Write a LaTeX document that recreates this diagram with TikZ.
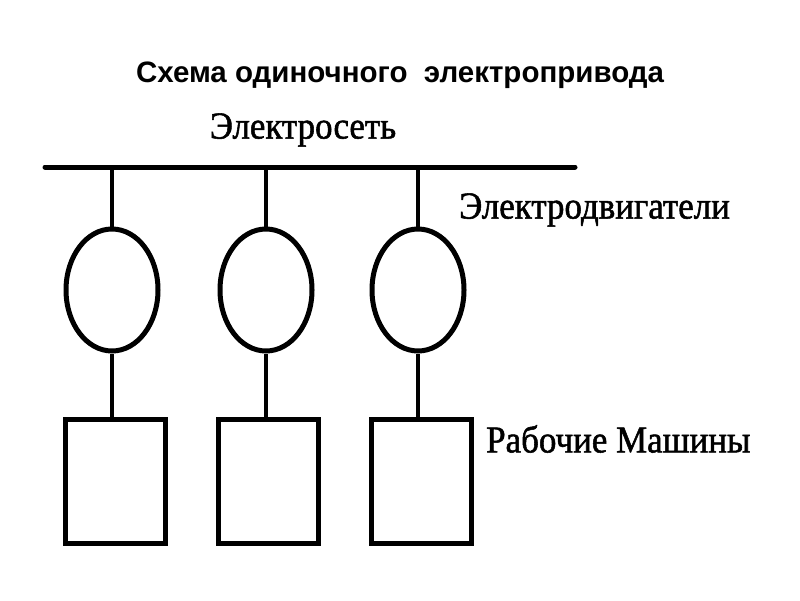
\documentclass[tikz,border=0pt]{standalone}
\usepackage{fontspec}
\usetikzlibrary{shapes.geometric}
\setmainfont{Liberation Serif}
\newfontfamily\titlefont{Liberation Sans}
\newfontfamily\scanfont[FakeStretch=0.92,FakeBold=1.4]{Liberation Serif}
\begin{document}
\begin{tikzpicture}[x=1pt,y=-1pt,
  wire/.style={line width=5pt,line cap=round},
  link/.style={line width=4.5pt},
  motor/.style={ellipse,draw,line width=5pt,minimum width=92pt,minimum height=122pt,inner sep=0pt},
  machine/.style={rectangle,draw,line width=5pt,minimum width=100pt,minimum height=124pt,inner sep=0pt},
  lbl/.style={font=\scanfont\fontsize{38}{44}\selectfont,inner sep=0pt}]
\useasboundingbox (0,0) rectangle (800,600);
\node[font=\titlefont\bfseries\fontsize{29.5}{34}\selectfont,inner sep=0pt] (title) at (400,75) {Схема одиночного\ \ электропривода};
\coordinate (busL) at (45,167);
\coordinate (busR) at (575,167);
\draw[wire] (busL) -- (busR);
\node[lbl] (net) at (303,130) {Электросеть};
\node[lbl,anchor=west] (mot) at (459,210) {Электродвигатели};
\node[lbl,anchor=west] (mach) at (486,439) {Рабочие Машины};
\foreach \i/\x/\bx in {1/112/115, 2/266/268, 3/418/421}{
  \node[motor] (m\i) at (\x,290) {};
  \node[machine] (b\i) at (\bx,481) {};
  \coordinate (t\i) at (\x,167);
  \draw[link] (t\i) -- (m\i.north);
  \draw[link] (m\i.south) -- (b\i.north -| m\i.south);
}
\end{tikzpicture}
\end{document}
